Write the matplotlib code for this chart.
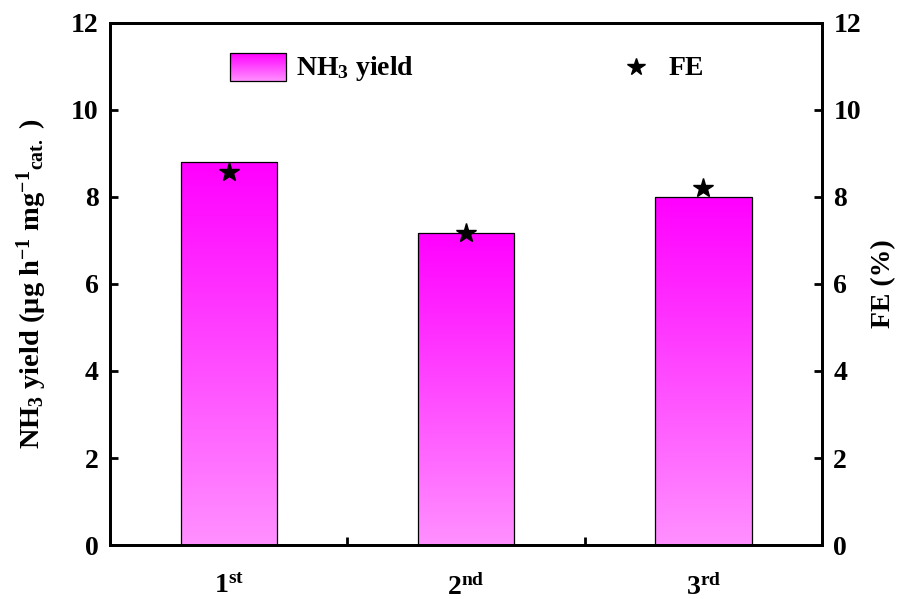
import numpy as np
import matplotlib.pyplot as plt
from matplotlib.patches import Rectangle
from matplotlib.colors import LinearSegmentedColormap
from matplotlib.ticker import MultipleLocator

plt.rcParams['font.family'] = 'Liberation Serif'
plt.rcParams['font.weight'] = 'bold'
plt.rcParams['mathtext.fontset'] = 'custom'
plt.rcParams['mathtext.rm'] = 'Liberation Serif:bold'
plt.rcParams['mathtext.it'] = 'Liberation Serif:bold'
plt.rcParams['mathtext.bf'] = 'Liberation Serif:bold'

cycles = [1, 2, 3]
cycle_labels = ['1$^{st}$', '2$^{nd}$', '3$^{rd}$']
nh3_yield = [8.79, 7.18, 7.99]
fe = [8.57, 7.17, 8.2]

# magenta at the top fading to light pink at the bottom
grad = LinearSegmentedColormap.from_list('pinkgrad', ['#ff90ff', '#ff00ff'])


def gradient_box(ax, x0, y0, w, h):
    box = Rectangle((x0, y0), w, h, facecolor='none', edgecolor='black',
                    linewidth=0.9, zorder=3)
    ax.add_patch(box)
    img = ax.imshow(np.linspace(0, 1, 256).reshape(-1, 1), cmap=grad,
                    origin='lower', aspect='auto',
                    extent=[x0, x0 + w, y0, y0 + h], zorder=2)
    img.set_clip_path(box)


fig = plt.figure(figsize=(9.05, 5.99), dpi=100)
ax = fig.add_axes([0.1215, 0.09, 0.787, 0.872])
ax2 = ax.twinx()

width = 0.405
for x, h in zip(cycles, nh3_yield):
    gradient_box(ax, x - width / 2, 0, width, h)

ax2.plot(cycles, fe, linestyle='none', marker='*', markersize=15,
         color='black', zorder=5)

ax.set_xlim(0.5, 3.5)
ax.set_ylim(0, 12)
ax2.set_ylim(0, 12)
ax.set_xticks(cycles)
ax.set_xticklabels(cycle_labels)
ax.xaxis.set_minor_locator(MultipleLocator(0.5))
ax.yaxis.set_major_locator(MultipleLocator(2))
ax2.yaxis.set_major_locator(MultipleLocator(2))

for a in (ax, ax2):
    for s in a.spines.values():
        s.set_linewidth(2)
    a.tick_params(direction='in', width=2, length=6, labelsize=20)
    a.tick_params(which='minor', direction='in', width=2, length=6)
ax.tick_params(axis='x', pad=21)
ax.tick_params(axis='y', pad=8)
ax2.tick_params(axis='y', pad=8)

ax.set_ylabel('NH$_3$ yield (μg h$^{-1}$ mg$^{-1}$$_{cat.}$ )', fontsize=20.5,
              fontweight='bold')
ax.yaxis.set_label_coords(-0.085, 0.5)
ax2.set_ylabel('FE (%)', fontsize=20, fontweight='bold', labelpad=7)

# legend: gradient patch for the bars, star for FE
gradient_box(ax, 1.006, 10.67, 0.236, 0.64)
ax.text(1.285, 10.95, 'NH$_3$ yield', fontsize=20, fontweight='bold',
        va='center', ha='left')
ax.plot([2.715], [10.98], linestyle='none', marker='*', markersize=13,
        color='black')
ax.text(2.854, 10.95, 'FE', fontsize=20, fontweight='bold',
        va='center', ha='left')

ax.set_xlim(0.5, 3.5)
ax.set_ylim(0, 12)

fig.savefig('out.png', dpi=100)
